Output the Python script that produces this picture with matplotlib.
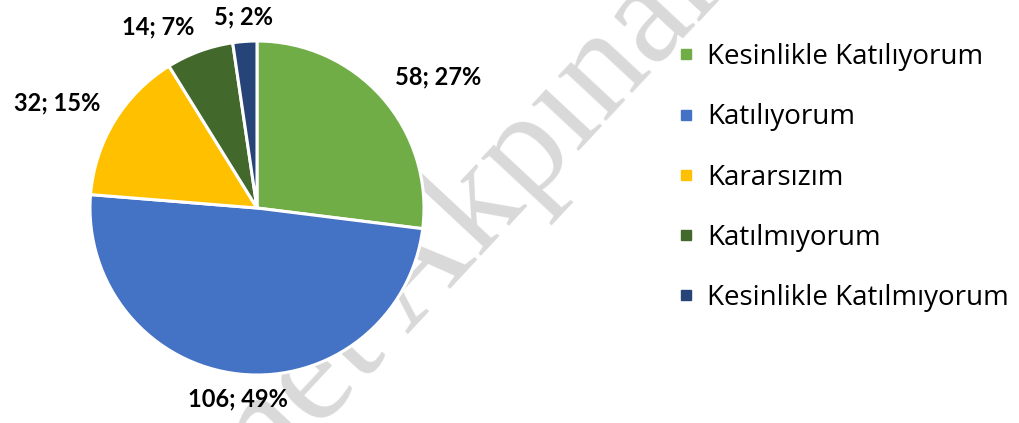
import numpy as np
import matplotlib.pyplot as plt
from matplotlib.lines import Line2D

# ── Veriler ──────────────────────────────────────────────────────────
categories = ["Kesinlikle Katılıyorum", "Katılıyorum", "Kararsızım",
              "Katılmıyorum", "Kesinlikle Katılmıyorum"]
values = [58, 106, 32, 14, 5]
colors = ["#70AD47", "#4472C4", "#FFC000", "#43682B", "#264478"]

W, H = 1019, 423
fig = plt.figure(figsize=(W / 100, H / 100), dpi=100)
fig.patch.set_facecolor("white")

# filigran
fig.text(400 / W, 1 - 292 / H, "Ahmet Akpınar", fontsize=104,
         family="Liberation Serif", color="#d9d9d9", rotation=47,
         rotation_mode="anchor", ha="center", va="center", zorder=0)

# pasta ekseni: merkez (257, 208), yarıçap 167 px
cx, cy, r = 257, 208, 167
ax = fig.add_axes([(cx - r) / W, (H - cy - r) / H, 2 * r / W, 2 * r / H])
ax.set_zorder(1)
ax.patch.set_alpha(0)

wedges, _ = ax.pie(values, colors=colors, startangle=90, counterclock=False,
                   radius=1.0,
                   wedgeprops=dict(edgecolor="white", linewidth=2.2))
ax.set_xlim(-1, 1)
ax.set_ylim(-1, 1)
ax.set_aspect("equal")

total = sum(values)
for w, v in zip(wedges, values):
    th = np.deg2rad((w.theta1 + w.theta2) / 2)
    c, s = np.cos(th), np.sin(th)
    ha = "left" if c > 0.15 else ("right" if c < -0.15 else "center")
    va = "bottom" if s > 0.15 else ("top" if s < -0.15 else "center")
    ax.text(1.1 * c, 1.08 * s, f"{v}; {round(100 * v / total)}%",
            ha=ha, va=va, fontsize=17, fontweight="bold",
            family="Lato", color="black", clip_on=False)

handles = [Line2D([], [], marker="s", linestyle="none", markersize=7,
                  markerfacecolor=col, markeredgecolor=col) for col in colors]
fig.legend(handles, categories, loc="upper left",
           bbox_to_anchor=(665 / W, 1 - 32 / H), frameon=False,
           prop=dict(family="Open Sans", size=20), labelspacing=1.16,
           handlelength=0.7, handletextpad=0.42, borderaxespad=0)

plt.savefig("out.png", dpi=100, facecolor="white")
